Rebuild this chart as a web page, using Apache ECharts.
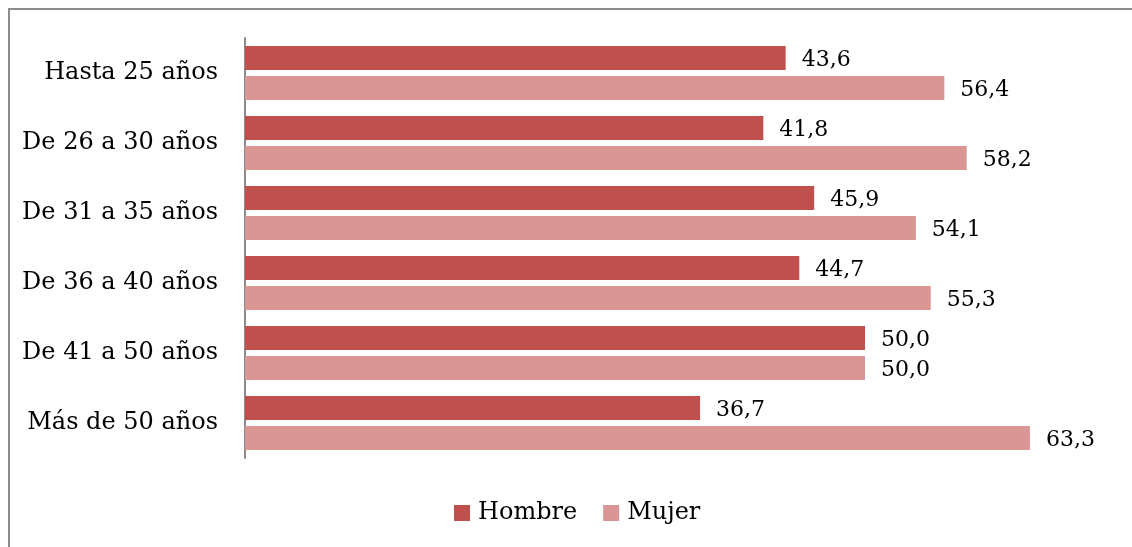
<!DOCTYPE html>
<html>
<head>
<meta charset="utf-8">
<script src="https://cdn.jsdelivr.net/npm/echarts@6/dist/echarts.min.js"></script>
<style>
  html, body { margin: 0; padding: 0; background: #fff; }
  #frame { position: absolute; left: 8px; top: 8px; width: 2000px; height: 2000px;
           border-top: 2px solid #8c8c8c; border-left: 2px solid #8c8c8c; }
  #main { position: absolute; left: 0; top: 0; width: 1132px; height: 547px; }
</style>
</head>
<body>
<div id="frame"></div>
<div id="main"></div>
<script>
// grupos de edad
var categorias = ['Hasta 25 años', 'De 26 a 30 años', 'De 31 a 35 años', 'De 36 a 40 años', 'De 41 a 50 años', 'Más de 50 años'];
var hombre = [43.6, 41.8, 45.9, 44.7, 50.0, 36.7];
var mujer = [56.4, 58.2, 54.1, 55.3, 50.0, 63.3];

var fuente = '"DejaVu Serif", "Liberation Serif", serif';
var fmt = function (p) { return p.value.toFixed(1).replace('.', ','); };

var myChart = echarts.init(document.getElementById('main'));
myChart.setOption({
  animation: false,
  textStyle: { fontFamily: fuente },
  grid: { left: 245, right: 19, top: 38, bottom: 89 },
  legend: {
    top: 496,
    left: 449,
    icon: 'rect',
    itemWidth: 16,
    itemHeight: 16,
    itemGap: 26,
    textStyle: { fontFamily: fuente, fontSize: 24, color: '#000', padding: [0, 0, 0, 3] },
    data: ['Hombre', 'Mujer']
  },
  xAxis: {
    type: 'value',
    min: 0,
    max: 70,
    show: false
  },
  yAxis: {
    type: 'category',
    inverse: true,
    data: categorias,
    axisLine: { lineStyle: { color: '#8c8c8c', width: 2 } },
    axisTick: { show: false },
    axisLabel: { fontFamily: fuente, fontSize: 24, color: '#000', margin: 27 }
  },
  series: [
    {
      name: 'Hombre',
      type: 'bar',
      data: hombre,
      barWidth: 24,
      barGap: '25%',
      itemStyle: { color: '#C0504D' },
      label: { show: true, position: 'right', distance: 16, formatter: fmt,
               fontFamily: fuente, fontSize: 22, color: '#000', offset: [0, 2] }
    },
    {
      name: 'Mujer',
      type: 'bar',
      data: mujer,
      barWidth: 24,
      itemStyle: { color: '#D99694' },
      label: { show: true, position: 'right', distance: 16, formatter: fmt,
               fontFamily: fuente, fontSize: 22, color: '#000', offset: [0, 2] }
    }
  ]
});
</script>
</body>
</html>
